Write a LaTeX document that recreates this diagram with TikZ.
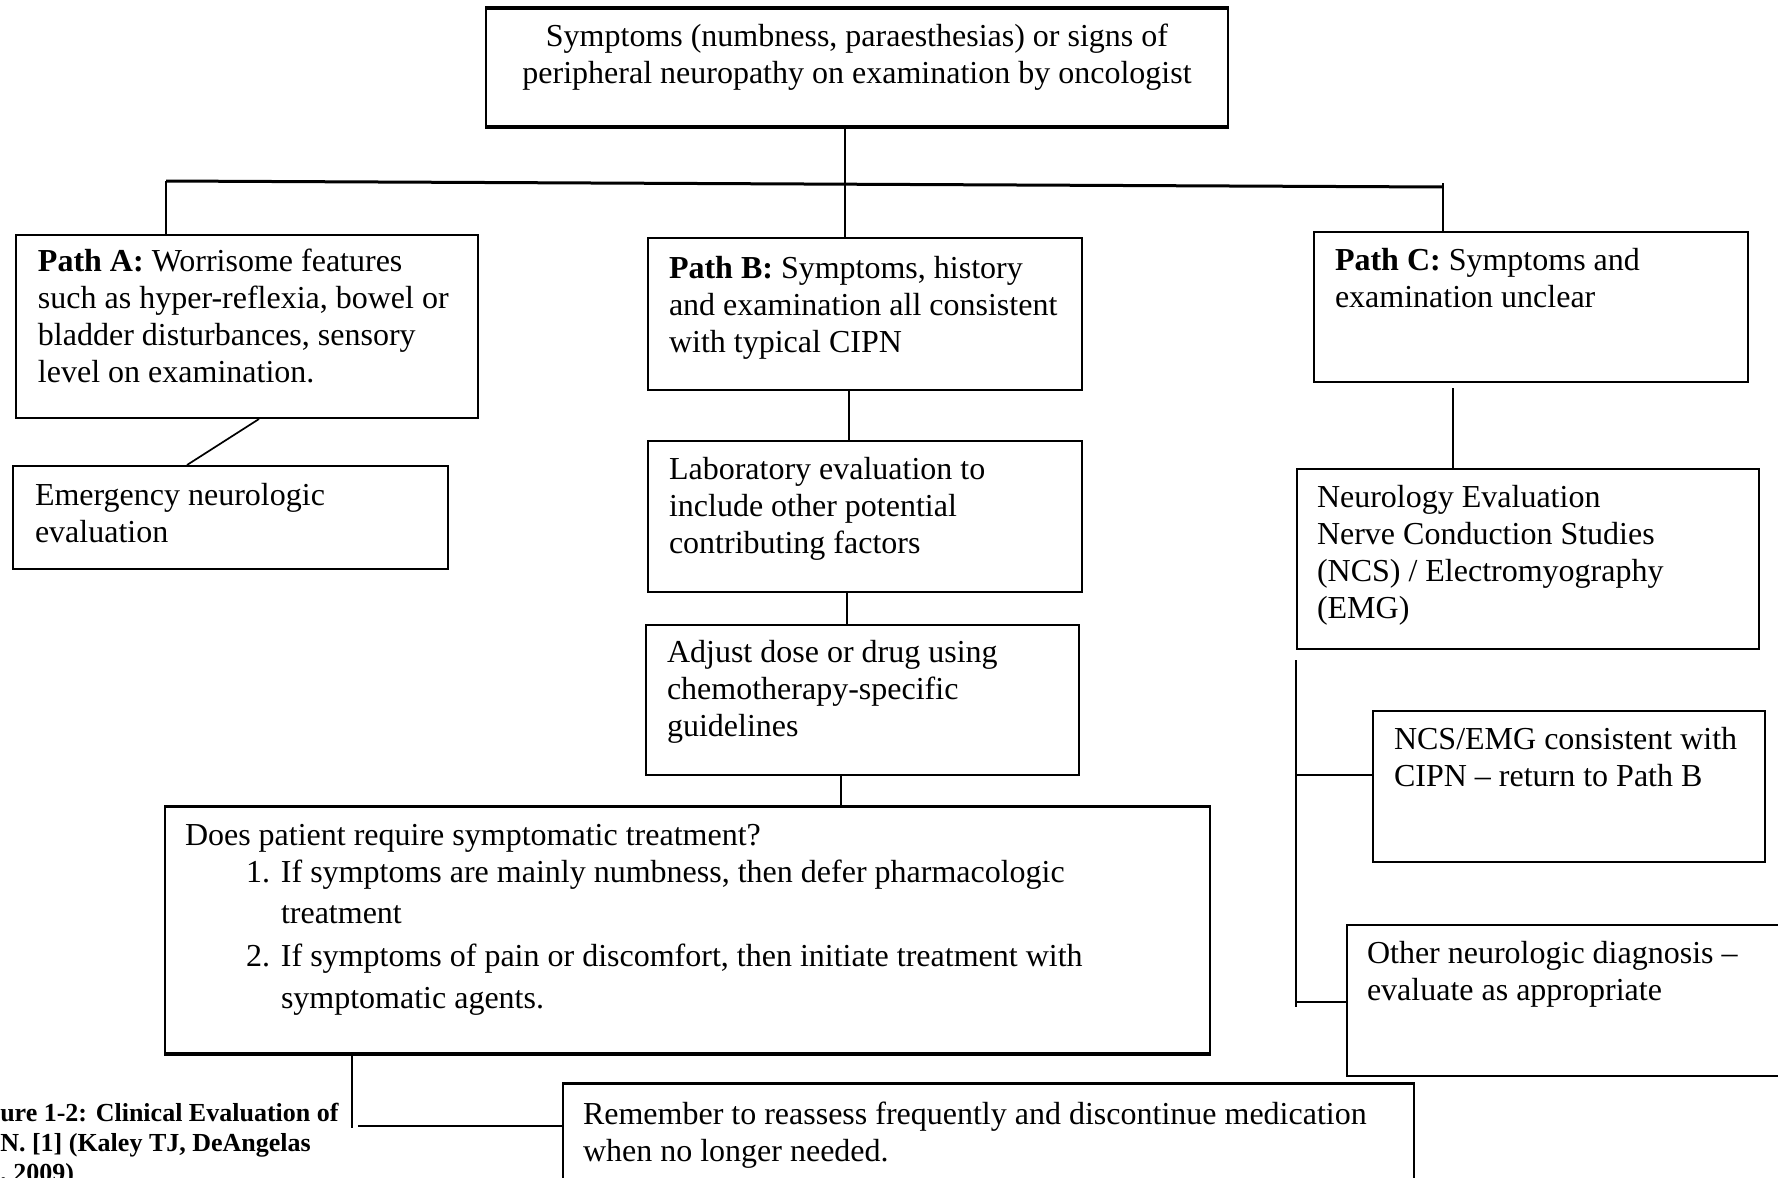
\documentclass[tikz,border=0pt]{standalone}
\usepackage{fontspec}
\setmainfont{Liberation Serif}
\usetikzlibrary{calc}
\newlength\px
\setlength\px{0.75pt}
\tikzset{
  box/.style={draw, line width=2\px, inner sep=0pt, anchor=north west},
  conn/.style={line width=1.7\px},
  heavy/.style={line width=3.5\px},
}
% width, height, left pad, content
\newcommand\bxt[4]{\parbox[c][#2\px][t]{#1\px}{\raggedright\leftskip=#3\px\fontsize{24}{27.75}\selectfont #4}}
\begin{document}
\begin{tikzpicture}[x=0.75pt,y=-0.75pt]
\useasboundingbox (0,0) rectangle (1778,1178);
\clip (0,0) rectangle (1778,1178);
\fill[white] (0,0) rectangle (1778,1178);

% boxes
\node[box] (top) at (485,8) {\parbox[c][117\px][t]{742\px}{\centering\fontsize{24}{28.1}\selectfont\rule{0pt}{37\px}Symptoms (numbness, paraesthesias) or signs of\\ peripheral neuropathy on examination by oncologist}};

\node[box] (pa) at (15,234) {\bxt{462}{183}{22}{\rule{0pt}{36\px}\mbox{\textbf{Path A:} Worrisome features}\\ \mbox{such as hyper-reflexia, bowel or}\\ \mbox{bladder disturbances, sensory}\\ \mbox{level on examination.}}};

\node[box] (pb) at (647,237) {\bxt{434}{152}{21}{\rule{0pt}{40\px}\mbox{\textbf{Path B:} Symptoms, history}\\ \mbox{and examination all consistent}\\ \mbox{with typical CIPN}}};

\node[box] (pc) at (1313,231) {\bxt{434}{150}{21}{\rule{0pt}{38\px}\mbox{\textbf{Path C:} Symptoms and}\\ \mbox{examination unclear}}};

\node[box] (em) at (12,465) {\bxt{435}{103}{22}{\rule{0pt}{39\px}\mbox{Emergency neurologic}\\ \mbox{evaluation}}};

\node[box] (lab) at (647,440) {\bxt{434}{151}{21}{\rule{0pt}{38\px}\mbox{Laboratory evaluation to}\\ \mbox{include other potential}\\ \mbox{contributing factors}}};

\node[box] (adj) at (645,624) {\bxt{433}{150}{21}{\rule{0pt}{37\px}\mbox{Adjust dose or drug using}\\ \mbox{chemotherapy-specific}\\ \mbox{guidelines}}};

\node[box] (does) at (164,806) {\bxt{1045}{246}{20}{\rule{0pt}{38\px}\mbox{Does patient require symptomatic treatment?}\\
\hspace*{61\px}\makebox[35\px][l]{1.}\mbox{If symptoms are mainly numbness, then defer pharmacologic}\\[4\px]
\hspace*{96\px}\mbox{treatment}\\[6\px]
\hspace*{61\px}\makebox[35\px][l]{2.}\mbox{If symptoms of pain or discomfort, then initiate treatment with}\\[5\px]
\hspace*{96\px}\mbox{symptomatic agents.}}};

\node[box] (rem) at (562,1083) {\bxt{851}{125}{20}{\rule{0pt}{40\px}\mbox{Remember to reassess frequently and discontinue medication}\\ \mbox{when no longer needed.}}};

\node[box] (neuro) at (1296,468) {\bxt{462}{180}{20}{\rule{0pt}{38\px}\mbox{Neurology Evaluation}\\ \mbox{Nerve Conduction Studies}\\ \mbox{(NCS) / Electromyography}\\ \mbox{(EMG)}}};

\node[box] (ncs) at (1372,710) {\bxt{392}{151}{21}{\rule{0pt}{38\px}\mbox{NCS/EMG consistent with}\\ \mbox{CIPN -- return to Path B}}};

\node[box] (oth) at (1346,924) {\bxt{470}{151}{20}{\rule{0pt}{38\px}\mbox{Other neurologic diagnosis --}\\ \mbox{evaluate as appropriate}}};

% caption (cut at the left and bottom edges)
\node[anchor=north west, inner sep=0pt] (cap) at (0,1101) {\parbox[t]{400\px}{\bfseries\fontsize{19.5}{22.5}\selectfont\rule{0pt}{20\px}ure 1-2: Clinical Evaluation of\\ N. [1] (Kaley TJ, DeAngelas\\ , 2009)}};

% heavy horizontal edges
\draw[heavy] (top.north west) -- (top.north east);
\draw[heavy] (top.south west) -- (top.south east);
\draw[line width=3\px] (does.north west) -- (does.north east);
\draw[line width=3\px] (does.south west) -- (does.south east);
\draw[line width=3\px] (rem.north west) -- (rem.north east);

% connectors
\coordinate (hL) at (166,181);
\coordinate (hR) at (1443,187);
\coordinate (hM) at (845,184);
\draw[line width=3\px] (hL) -- (hR);
\draw[conn] (hL) -- (hL |- pa.north);
\draw[conn] ($(hR)+(0,-4)$) -- (hR |- pc.north);
\draw[conn] (top.south -| hM) -- (hM |- pb.north);

\coordinate (dA) at (259,0);
\coordinate (dE) at (187,0);
\draw[conn] (pa.south -| dA) -- (em.north -| dE);

\coordinate (cB1) at (849,0);
\coordinate (cB2) at (847,0);
\coordinate (cB3) at (841,0);
\draw[conn] (pb.south -| cB1) -- (lab.north -| cB1);
\draw[conn] (lab.south -| cB2) -- (adj.north -| cB2);
\draw[conn] (adj.south -| cB3) -- (does.north -| cB3);

\coordinate (j) at (352,1126);
\draw[conn] (does.south -| j) -- ($(j)+(0,2)$);
\draw[line width=2.5\px] ($(j)+(6,0)$) -- (j -| rem.west);

\coordinate (cC) at (1453,0);
\draw[conn] ($(pc.south -| cC)+(0,5)$) -- (neuro.north -| cC);

\coordinate (tB) at (1296,1007);
\draw[conn] ($(neuro.south west)+(0,10)$) -- (tB);
\coordinate (b1) at (1296,775);
\coordinate (b2) at (1296,1002);
\draw[conn] (b1) -- (b1 -| ncs.west);
\draw[conn] (b2) -- (b2 -| oth.west);
\end{tikzpicture}
\end{document}
